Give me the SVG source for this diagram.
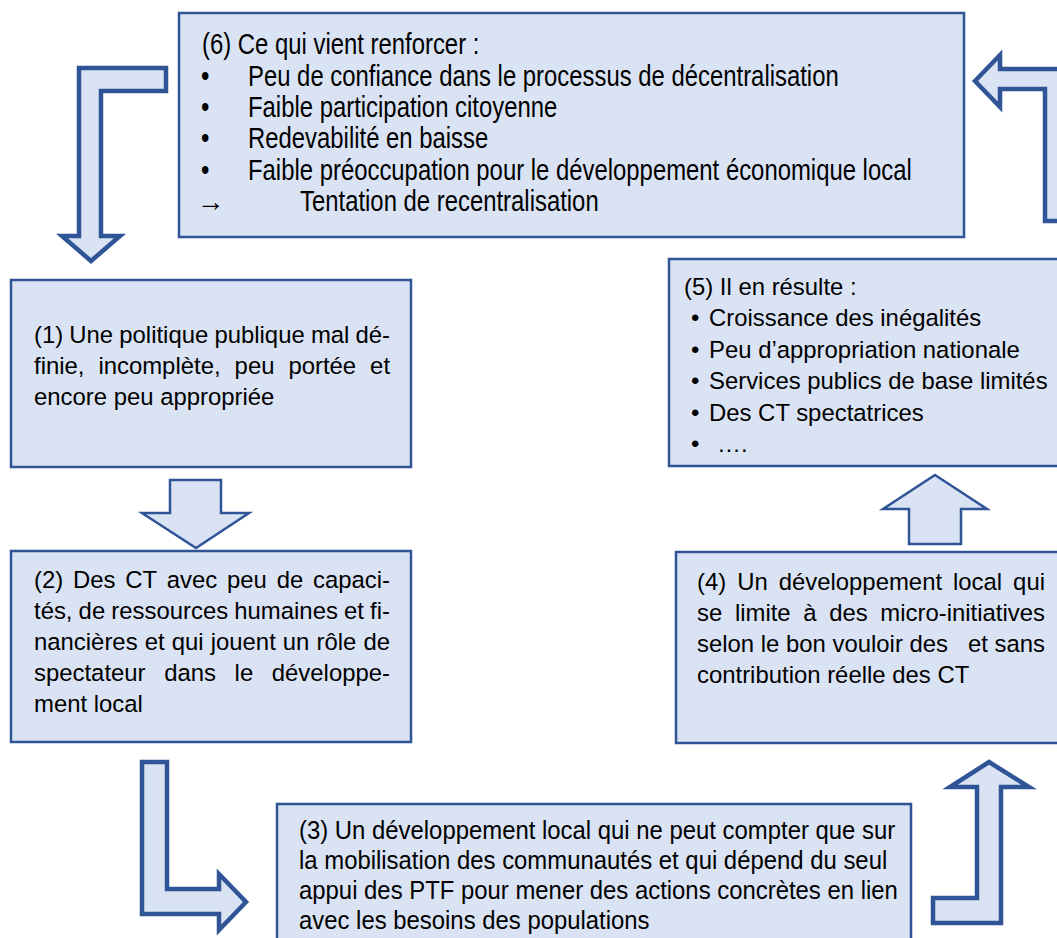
<svg xmlns="http://www.w3.org/2000/svg" width="1057" height="938" viewBox="0 0 1057 938">
  <style>
    .box { fill: #dae3f3; stroke: #2f5597; stroke-width: 2.5; }
    .bent { fill: #dae3f3; stroke: #2f5597; stroke-width: 4.5; stroke-linejoin: miter; }
    .block { fill: #dae3f3; stroke: #2f5597; stroke-width: 2.5; stroke-linejoin: miter; }
    text { font-family: "Liberation Sans", Arial, sans-serif; font-size: 23.9px; fill: #000; }
  </style>
  <rect width="1057" height="938" fill="#ffffff"/>

  <!-- connectors: block arrows between the stages of the cycle -->
  <g id="connectors">
    <!-- (6) to (1): left then down -->
    <path class="bent" d="M166,68 L79,68 L79,236 L62,236 L91,261 L120,236 L101,236 L101,91 L166,91 Z"/>
    <!-- (1) to (2) -->
    <path class="block" d="M170,480 L221,480 L221,513 L249,513 L196,548 L142,513 L170,513 Z"/>
    <!-- (2) to (3): down then right -->
    <path class="bent" d="M142,762 L167,762 L167,889 L219,889 L219,874 L246,902 L219,930 L219,914 L142,914 Z"/>
    <!-- (3) to (4): right then up -->
    <path class="bent" d="M989,762 L1029,787 L1001,787 L1001,923 L933,923 L933,898 L977,898 L977,787 L950,787 Z"/>
    <!-- (4) to (5) -->
    <path class="block" d="M935,475 L987,509 L961,509 L961,544 L909,544 L909,509 L883,509 Z"/>
    <!-- (5) to (6): up then left -->
    <path class="bent" d="M975,81 L1000,55 L1000,69 L1075,69 L1075,221 L1045,221 L1045,89 L1000,89 L1000,107 Z"/>
  </g>

  <!-- (6) reinforcing effects -->
  <g id="node6">
    <rect class="box" x="179" y="13" width="785" height="224"/>
    <text transform="translate(202,54) scale(1,1.2)">(6) Ce qui vient renforcer :</text>
    <text transform="translate(201,86) scale(1,1.2)">•</text>
    <text transform="translate(248,86) scale(1,1.2)">Peu de confiance dans le processus de décentralisation</text>
    <text transform="translate(201,117) scale(1,1.2)">•</text>
    <text transform="translate(248,117) scale(1,1.2)">Faible participation citoyenne</text>
    <text transform="translate(201,148) scale(1,1.2)">•</text>
    <text transform="translate(248,148) scale(1,1.2)">Redevabilité en baisse</text>
    <text transform="translate(201,180) scale(1,1.2)">•</text>
    <text transform="translate(248,180) scale(1,1.2)">Faible préoccupation pour le développement économique local</text>
    <text transform="translate(197,211) scale(1.15,1.2)">→</text>
    <text transform="translate(300,211) scale(1,1.2)">Tentation de recentralisation</text>
  </g>

  <!-- (1) public policy -->
  <g id="node1">
    <rect class="box" x="11" y="280" width="400" height="187"/>
    <text y="343"><tspan x="34">(1)</tspan><tspan x="69.3">Une</tspan><tspan x="119.3">politique</tspan><tspan x="214.4">publique</tspan><tspan x="310.9">mal</tspan><tspan x="355.5">dé-</tspan></text>
    <text y="374"><tspan x="34">finie,</tspan><tspan x="98.4">incomplète,</tspan><tspan x="234.6">peu</tspan><tspan x="288.4">portée</tspan><tspan x="370.1">et</tspan></text>
    <text x="34" y="405">encore peu appropriée</text>
  </g>

  <!-- (2) local authorities -->
  <g id="node2">
    <rect class="box" x="11" y="551" width="400" height="191"/>
    <text y="588"><tspan x="34">(2)</tspan><tspan x="73">Des</tspan><tspan x="125.2">CT</tspan><tspan x="166.8">avec</tspan><tspan x="227">peu</tspan><tspan x="276.7">de</tspan><tspan x="313">capaci-</tspan></text>
    <text y="619"><tspan x="34">tés,</tspan><tspan x="78.6">de</tspan><tspan x="111.3">ressources</tspan><tspan x="234.3">humaines</tspan><tspan x="344">et</tspan><tspan x="370.1">fi-</tspan></text>
    <text y="650"><tspan x="34">nancières</tspan><tspan x="144.7">et</tspan><tspan x="171.7">qui</tspan><tspan x="210.7">jouent</tspan><tspan x="282.8">un</tspan><tspan x="316.5">rôle</tspan><tspan x="363.4">de</tspan></text>
    <text y="681"><tspan x="34">spectateur</tspan><tspan x="164.2">dans</tspan><tspan x="234.6">le</tspan><tspan x="271.8">développe-</tspan></text>
    <text x="34" y="712">ment local</text>
  </g>

  <!-- (3) community-driven development -->
  <g id="node3">
    <rect class="box" x="277" y="804" width="634" height="150"/>
    <text transform="translate(299,839) scale(1,1.1)">(3) Un développement local qui ne peut compter que sur</text>
    <text transform="translate(299,869) scale(1,1.1)">la mobilisation des communautés et qui dépend du seul</text>
    <text transform="translate(299,899) scale(1,1.1)">appui des PTF pour mener des actions concrètes en lien</text>
    <text transform="translate(299,929) scale(1,1.1)">avec les besoins des populations</text>
  </g>

  <!-- (4) micro-initiatives -->
  <g id="node4">
    <rect class="box" x="676" y="552" width="400" height="191"/>
    <text y="590"><tspan x="697">(4)</tspan><tspan x="737.2">Un</tspan><tspan x="778.7">développement</tspan><tspan x="953">local</tspan><tspan x="1013.1">qui</tspan></text>
    <text y="621"><tspan x="697">se</tspan><tspan x="734.9">limite</tspan><tspan x="803.2">à</tspan><tspan x="829.2">des</tspan><tspan x="880.3">micro-initiatives</tspan></text>
    <text y="652"><tspan x="697">selon le bon vouloir des</tspan><tspan x="968">et sans</tspan></text>
    <text x="697" y="683">contribution réelle des CT</text>
  </g>

  <!-- (5) outcomes -->
  <g id="node5">
    <rect class="box" x="669" y="259" width="400" height="207"/>
    <text x="684" y="295">(5) Il en résulte :</text>
    <text x="691" y="326">•</text><text x="709" y="326">Croissance des inégalités</text>
    <text x="691" y="358">•</text><text x="709" y="358">Peu d’appropriation nationale</text>
    <text x="691" y="389">•</text><text x="709" y="389">Services publics de base limités</text>
    <text x="691" y="421">•</text><text x="709" y="421">Des CT spectatrices</text>
    <text x="691" y="452">•</text><text x="717" y="452">….</text>
  </g>
</svg>
